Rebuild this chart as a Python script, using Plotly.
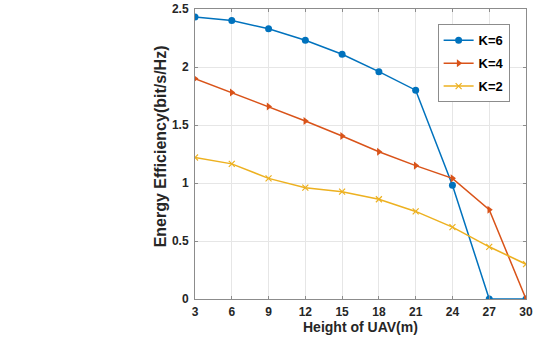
import plotly.graph_objects as go

heights = [3, 6, 9, 12, 15, 18, 21, 24, 27, 30]
k6 = [2.43, 2.40, 2.33, 2.23, 2.11, 1.96, 1.80, 0.98, 0.0, 0.0]
k4 = [1.90, 1.78, 1.66, 1.535, 1.405, 1.27, 1.15, 1.04, 0.77, 0.0]
k2 = [1.22, 1.165, 1.04, 0.96, 0.925, 0.86, 0.755, 0.62, 0.45, 0.30]

fig = go.Figure()
fig.add_trace(go.Scatter(x=heights, y=k6, name="K=6", mode="lines+markers", legendgroup="a",
                         line=dict(color="#0072BD", width=1.5),
                         marker=dict(symbol="circle", size=7, color="#0072BD")))
fig.add_trace(go.Scatter(x=heights, y=k4, name="K=4", mode="lines+markers", legendgroup="b",
                         line=dict(color="#D95319", width=1.5),
                         marker=dict(symbol="triangle-right", size=7, color="#D95319")))
fig.add_trace(go.Scatter(x=heights, y=k2, name="K=2", mode="lines+markers", legendgroup="c",
                         line=dict(color="#EDB120", width=1.5),
                         marker=dict(symbol="x-thin", size=6, line=dict(color="#EDB120", width=1.2))))

axis_common = dict(showline=True, linecolor="#8c8c8c", linewidth=1, mirror="ticks",
                   ticks="inside", ticklen=3, tickcolor="#8c8c8c", automargin=False,
                   showgrid=True, gridcolor="#e6e6e6", gridwidth=1, zeroline=False,
                   tickfont=dict(family="Arial, Liberation Sans", size=12, color="#262626"))

fig.update_xaxes(range=[3, 30], tickvals=heights, ticktext=["<b>%d</b>" % h for h in heights],
                 ticklabelstandoff=2, **axis_common)
fig.update_yaxes(range=[0, 2.5], tickvals=[0, 0.5, 1, 1.5, 2, 2.5],
                 ticktext=["<b>%s</b>" % s for s in ["0", "0.5", "1", "1.5", "2", "2.5"]],
                 ticklabelstandoff=3, **axis_common)

fig.add_annotation(text="<b>Height of UAV(m)</b>", xref="paper", yref="paper",
                   x=0.5, y=-0.097, xanchor="center", yanchor="middle", showarrow=False,
                   font=dict(family="Arial, Liberation Sans", size=14, color="#262626"))
fig.add_annotation(text="<b>Energy Efficiency(bit/s/Hz)</b>", xref="paper", yref="paper",
                   x=-0.103, y=0.526, xanchor="center", yanchor="middle", showarrow=False,
                   textangle=-90,
                   font=dict(family="Arial, Liberation Sans", size=16, color="#262626"))

fig.update_layout(
    width=536, height=339,
    margin=dict(l=195, r=10, t=9, b=40),
    paper_bgcolor="white", plot_bgcolor="white",
    showlegend=True,
    legend=dict(x=0.733, y=0.947, xanchor="left", yanchor="top",
                bgcolor="white", bordercolor="#8c8c8c", borderwidth=1,
                font=dict(family="Arial, Liberation Sans", size=13, color="black"),
                itemwidth=30, tracegroupgap=3),
)
fig.for_each_trace(lambda t: t.update(name="<b>" + t.name + "</b>"))

fig.write_html("out.html")
